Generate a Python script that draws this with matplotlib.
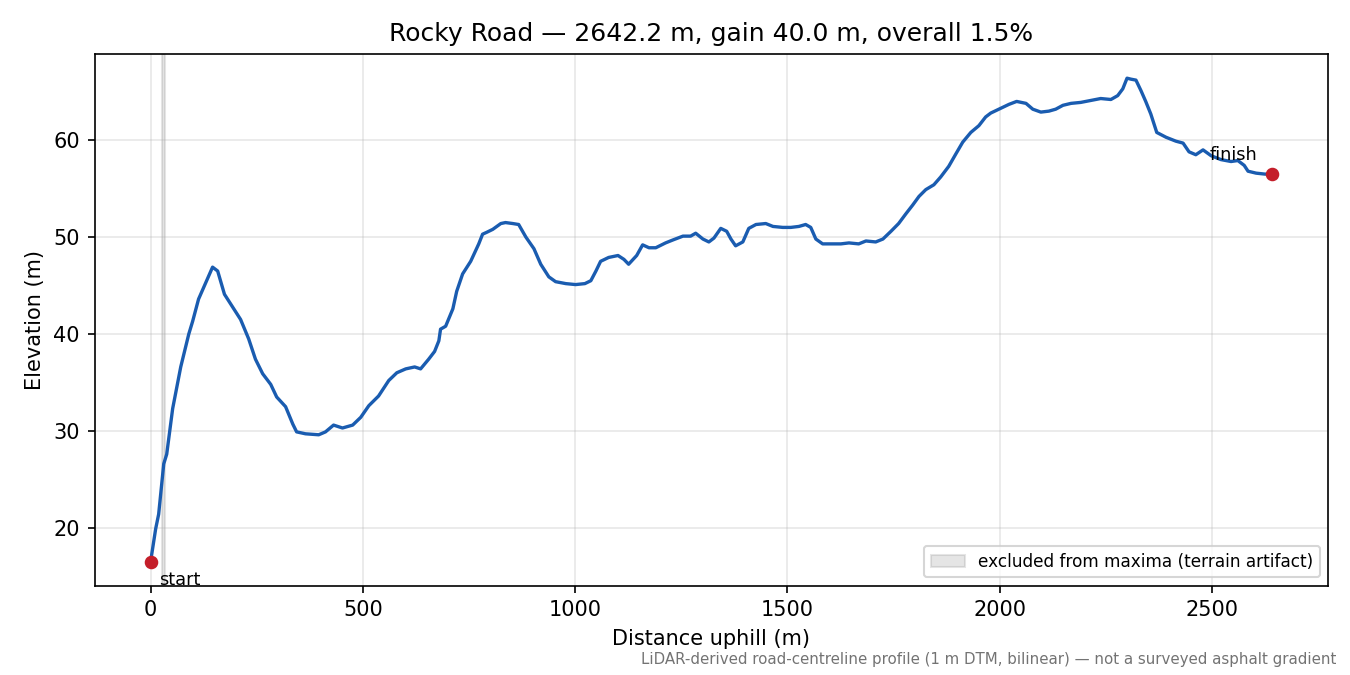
import matplotlib
matplotlib.use("Agg")
import matplotlib.pyplot as plt

# distance along road (m) and elevation (m)
dist = [0, 12, 19, 31, 38, 52, 71, 90, 99, 113, 132, 146, 158, 174, 193, 212, 231, 247,
        264, 283, 297, 318, 335, 344, 365, 396, 412, 431, 452, 476, 495, 514, 537, 561,
        580, 601, 622, 636, 655, 669, 679, 683, 695, 712, 721, 735, 754, 773, 782, 792,
        806, 825, 836, 853, 867, 884, 903, 919, 938, 954, 978, 1001, 1023, 1037, 1049,
        1060, 1079, 1101, 1115, 1126, 1145, 1159, 1174, 1190, 1213, 1230, 1254, 1272,
        1284, 1301, 1315, 1327, 1343, 1357, 1367, 1378, 1395, 1409, 1426, 1449, 1466,
        1489, 1508, 1527, 1543, 1555, 1567, 1583, 1607, 1626, 1645, 1668, 1685, 1708,
        1725, 1744, 1762, 1779, 1795, 1810, 1826, 1845, 1861, 1880, 1897, 1913, 1932,
        1951, 1967, 1979, 1998, 2022, 2040, 2062, 2078, 2097, 2116, 2132, 2149, 2168,
        2191, 2215, 2238, 2262, 2278, 2290, 2300, 2309, 2321, 2333, 2344, 2356, 2370,
        2392, 2415, 2432, 2446, 2462, 2479, 2498, 2521, 2545, 2561, 2576, 2585, 2604,
        2625, 2642.2]
elev = [16.5, 19.9, 21.4, 26.6, 27.6, 32.3, 36.6, 40.0, 41.3, 43.6, 45.5, 46.9, 46.5,
        44.1, 42.8, 41.5, 39.5, 37.4, 35.9, 34.8, 33.5, 32.5, 30.7, 29.9, 29.7, 29.6,
        29.9, 30.6, 30.3, 30.6, 31.4, 32.6, 33.6, 35.2, 36.0, 36.4, 36.6, 36.4, 37.4,
        38.2, 39.3, 40.5, 40.8, 42.6, 44.4, 46.2, 47.5, 49.3, 50.3, 50.5, 50.8, 51.4,
        51.5, 51.4, 51.3, 50.0, 48.8, 47.2, 45.9, 45.4, 45.2, 45.1, 45.2, 45.5, 46.5,
        47.5, 47.9, 48.1, 47.7, 47.2, 48.1, 49.2, 48.9, 48.9, 49.4, 49.7, 50.1, 50.1,
        50.4, 49.8, 49.5, 49.9, 50.9, 50.6, 49.8, 49.1, 49.5, 50.9, 51.3, 51.4, 51.1,
        51.0, 51.0, 51.1, 51.3, 51.0, 49.8, 49.3, 49.3, 49.3, 49.4, 49.3, 49.6, 49.5,
        49.8, 50.6, 51.4, 52.4, 53.3, 54.2, 54.9, 55.4, 56.2, 57.3, 58.6, 59.8, 60.8,
        61.5, 62.4, 62.8, 63.2, 63.7, 64.0, 63.8, 63.2, 62.9, 63.0, 63.2, 63.6, 63.8,
        63.9, 64.1, 64.3, 64.2, 64.6, 65.3, 66.4, 66.3, 66.2, 65.1, 64.0, 62.7, 60.8,
        60.3, 59.9, 59.7, 58.8, 58.5, 59.0, 58.4, 58.0, 57.8, 57.9, 57.4, 56.8, 56.6,
        56.5, 56.5]

excluded = (28, 33)  # terrain artifact span (m)
title = "Rocky Road \u2014 2642.2 m, gain 40.0 m, overall 1.5%"
note = ("LiDAR-derived road-centreline profile (1 m DTM, bilinear) \u2014 "
        "not a surveyed asphalt gradient")

fig, ax = plt.subplots(figsize=(9, 4.5), dpi=150)
fig.subplots_adjust(left=0.07, right=0.984, top=0.92, bottom=0.132)

ax.axvspan(excluded[0], excluded[1], color="0.5", alpha=0.2,
           label="excluded from maxima (terrain artifact)")
ax.plot(dist, elev, color="#1a5cb0", lw=1.6)
ax.plot([dist[0], dist[-1]], [elev[0], elev[-1]], "o", color="#c41e2a", ms=5.5, zorder=5)
ax.annotate("start", (dist[0], elev[0]), xytext=(4, -9), textcoords="offset points",
            fontsize=8.5, va="center")
ax.annotate("finish", (dist[-1], elev[-1]), xytext=(-30, 9), textcoords="offset points",
            fontsize=8.5, va="center")

ax.grid(True, alpha=0.3)
ax.set_title(title)
ax.set_xlabel("Distance uphill (m)")
ax.set_ylabel("Elevation (m)")
ax.legend(loc="lower right", fontsize=8.1)
fig.text(0.99, 0.012, note, ha="right", va="bottom", fontsize=7.2, color="0.45")

fig.savefig("out.png")
